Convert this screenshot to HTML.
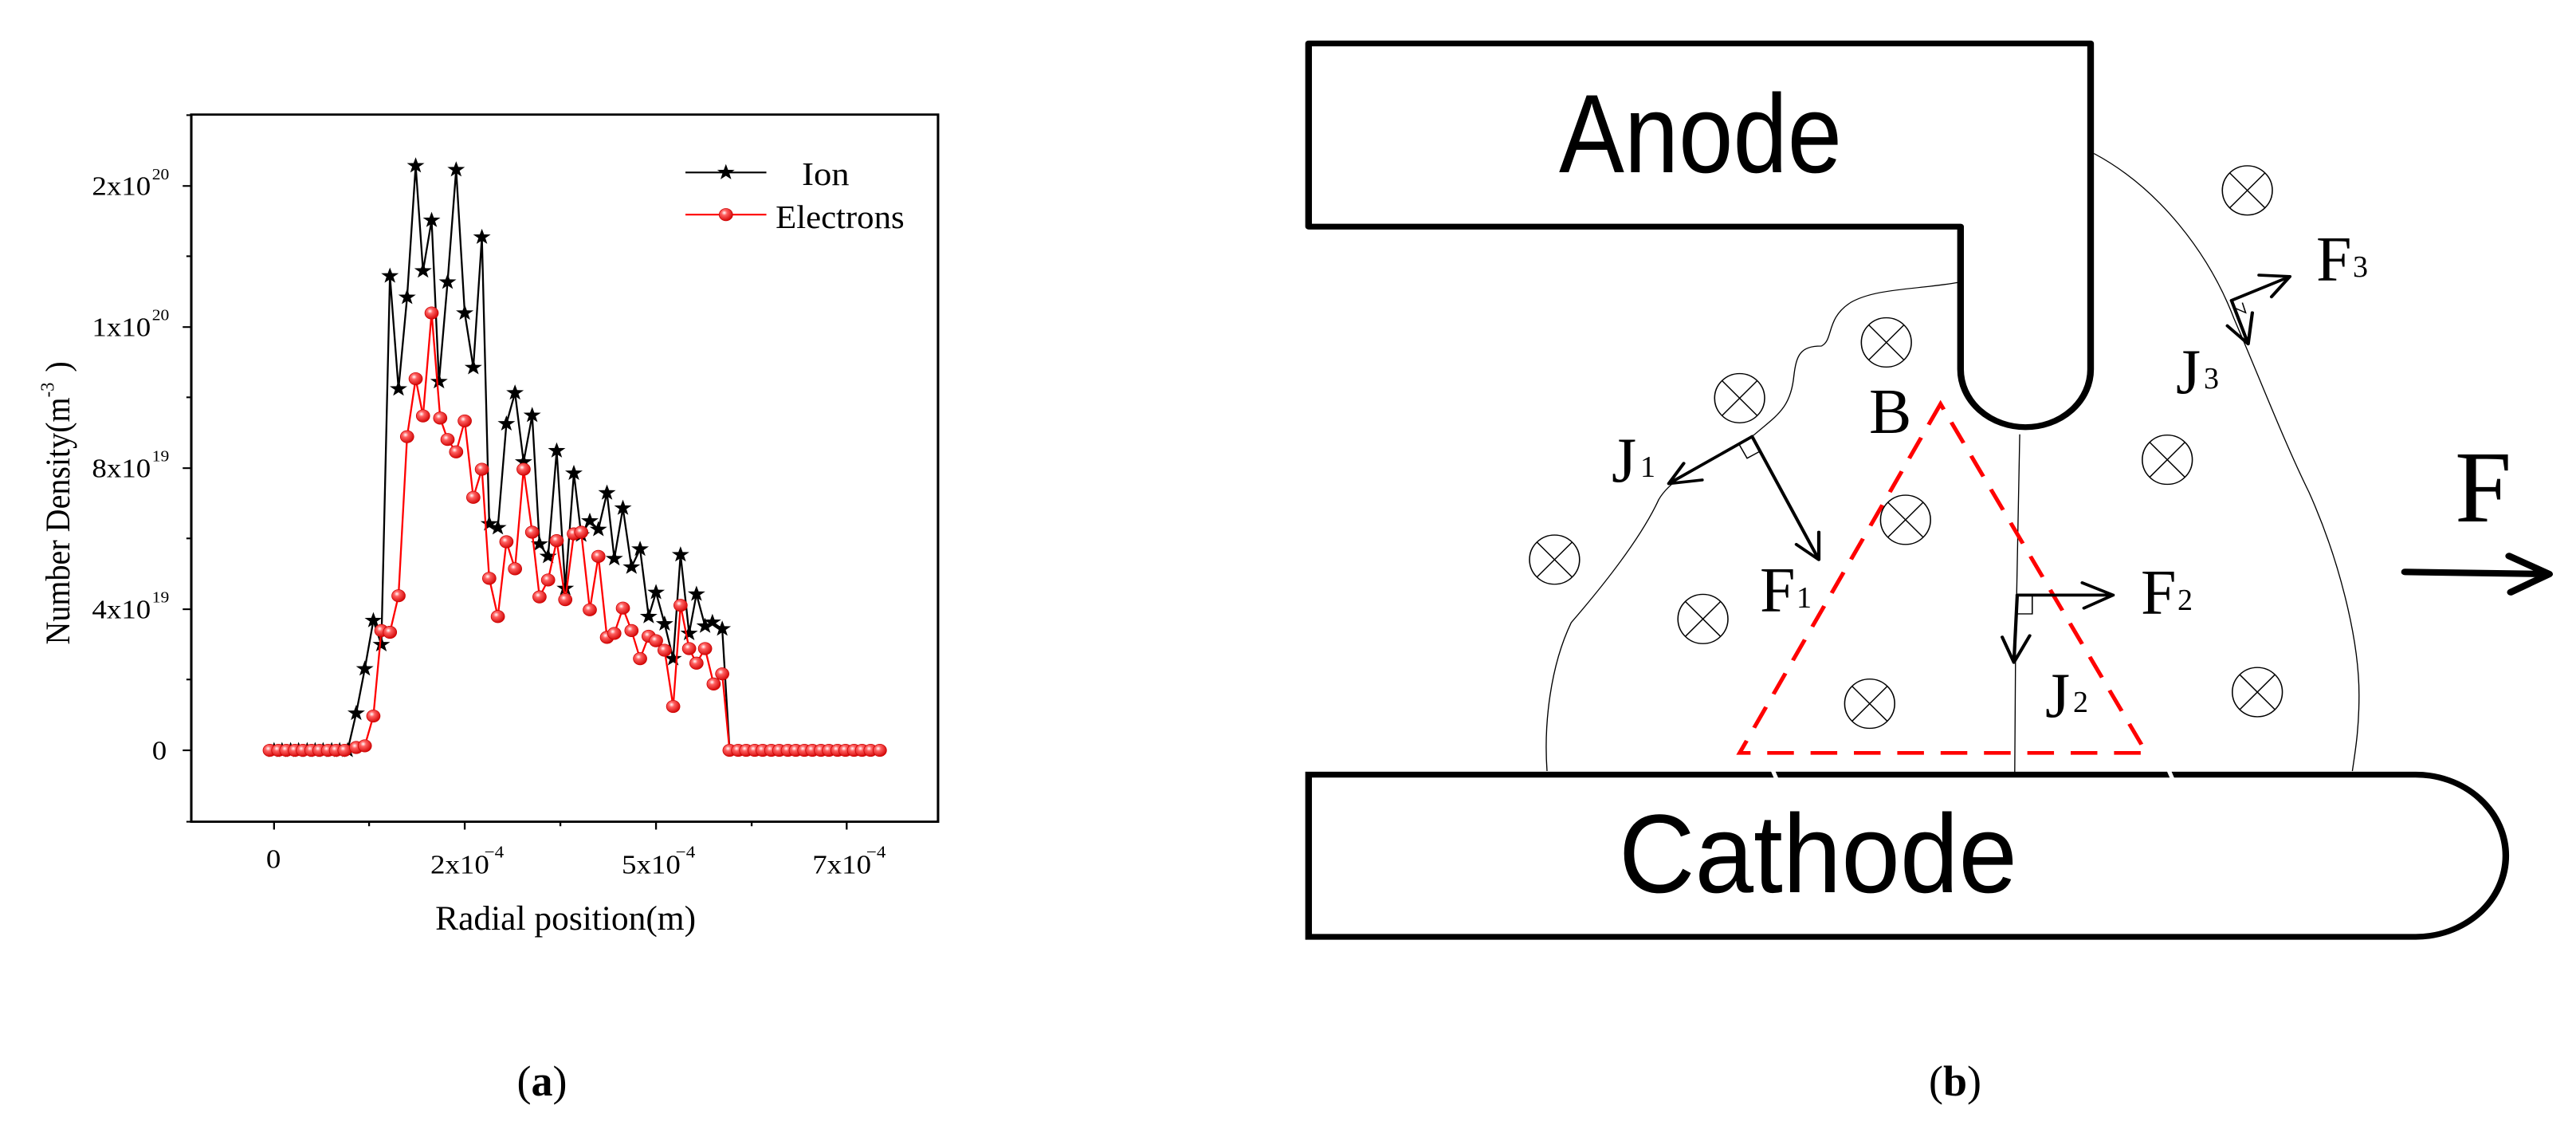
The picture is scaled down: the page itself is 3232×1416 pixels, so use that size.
<!DOCTYPE html>
<html><head><meta charset="utf-8"><style>html,body{margin:0;padding:0;background:#fff}svg{display:block}</style></head>
<body>
<svg width="3232" height="1416" viewBox="0 0 3232 1416" xmlns="http://www.w3.org/2000/svg">
<defs>
<radialGradient id="rg" cx="0.38" cy="0.35" r="0.7">
<stop offset="0" stop-color="#fff"/><stop offset="0.3" stop-color="#ff6060"/><stop offset="1" stop-color="#d00000"/>
</radialGradient>
<path id="st" d="M0,-15 L3.5,-4.8 L14.3,-4.6 L5.7,1.8 L8.8,12.1 L0,6 L-8.8,12.1 L-5.7,1.8 L-14.3,-4.6 L-3.5,-4.8 Z" fill="#000"/>
<circle id="el" r="11" fill="url(#rg)" stroke="#c00" stroke-width="1"/>
</defs>
<rect width="3232" height="1416" fill="#fff"/>

<!-- Panel (a) -->
<g transform="translate(0,100) scale(0.76923,0.705)" font-family="'Liberation Serif',serif">
<rect x="312" y="62" width="1218" height="1258" fill="none" stroke="#000" stroke-width="4"/>
<g stroke="#000" stroke-width="3">
<line x1="298" y1="1193" x2="312" y2="1193"/><line x1="298" y1="942" x2="312" y2="942"/><line x1="298" y1="691" x2="312" y2="691"/><line x1="298" y1="440" x2="312" y2="440"/><line x1="298" y1="189" x2="312" y2="189"/>
<line x1="304" y1="1320" x2="312" y2="1320"/><line x1="304" y1="1067" x2="312" y2="1067"/><line x1="304" y1="816" x2="312" y2="816"/><line x1="304" y1="565" x2="312" y2="565"/><line x1="304" y1="314" x2="312" y2="314"/><line x1="304" y1="63" x2="312" y2="63"/>
<line x1="447" y1="1320" x2="447" y2="1334"/><line x1="758" y1="1320" x2="758" y2="1334"/><line x1="1070" y1="1320" x2="1070" y2="1334"/><line x1="1381" y1="1320" x2="1381" y2="1334"/>
<line x1="602" y1="1320" x2="602" y2="1328"/><line x1="914" y1="1320" x2="914" y2="1328"/><line x1="1226" y1="1320" x2="1226" y2="1328"/>
</g>
<g font-size="48" text-anchor="end">
<text x="272" y="1209">0</text>
<text x="246" y="958">4x10</text><text x="248" y="930" font-size="28" text-anchor="start">19</text>
<text x="246" y="707">8x10</text><text x="248" y="679" font-size="28" text-anchor="start">19</text>
<text x="246" y="456">1x10</text><text x="248" y="428" font-size="28" text-anchor="start">20</text>
<text x="246" y="205">2x10</text><text x="248" y="177" font-size="28" text-anchor="start">20</text>
</g>
<g font-size="48">
<text x="434" y="1402">0</text>
<text x="702" y="1412">2x10</text><text x="790" y="1384" font-size="30">−4</text>
<text x="1014" y="1412">5x10</text><text x="1102" y="1384" font-size="30">−4</text>
<text x="1325" y="1412">7x10</text><text x="1413" y="1384" font-size="30">−4</text>
</g>
<text x="710" y="1512" font-size="62" textLength="425" lengthAdjust="spacingAndGlyphs">Radial position(m)</text>
<text transform="translate(113,1005) rotate(-90)" font-size="57" textLength="440" lengthAdjust="spacingAndGlyphs">Number Density(m</text>
<text transform="translate(88,565) rotate(-90)" font-size="32">-3</text>
<text transform="translate(113,520) rotate(-90)" font-size="57">)</text>

<polyline fill="none" stroke="#000" stroke-width="3" points="447,1193 460,1193 474,1193 487,1193 501,1193 514,1193 527,1193 541,1193 554,1193 567,1193 581,1127 595,1048 609,962 622,1005 636,349 650,550 664,387 678,153 690,340 704,250 716,537 730,360 744,160 758,415 772,512 786,280 798,790 812,797 826,612 840,557 854,680 868,597 880,826 894,848 908,660 922,905 936,700 948,810 962,785 976,800 990,735 1002,852 1016,762 1030,867 1044,835 1058,955 1070,912 1084,968 1098,1030 1110,845 1124,985 1136,915 1150,972 1162,965 1178,977 1190,1193 1204,1193 1218,1193 1231,1193 1244,1193 1258,1193 1271,1193 1285,1193 1298,1193 1312,1193 1325,1193 1339,1193 1352,1193 1366,1193 1379,1193 1393,1193 1406,1193 1420,1193 1435,1193"/>
<g>
<use href="#st" x="447" y="1193"/><use href="#st" x="460" y="1193"/><use href="#st" x="474" y="1193"/><use href="#st" x="487" y="1193"/><use href="#st" x="501" y="1193"/><use href="#st" x="514" y="1193"/><use href="#st" x="527" y="1193"/><use href="#st" x="541" y="1193"/><use href="#st" x="554" y="1193"/><use href="#st" x="567" y="1193"/>
<use href="#st" x="581" y="1127"/><use href="#st" x="595" y="1048"/><use href="#st" x="609" y="962"/><use href="#st" x="622" y="1005"/><use href="#st" x="636" y="349"/><use href="#st" x="650" y="550"/><use href="#st" x="664" y="387"/><use href="#st" x="678" y="153"/><use href="#st" x="690" y="340"/><use href="#st" x="704" y="250"/><use href="#st" x="716" y="537"/><use href="#st" x="730" y="360"/><use href="#st" x="744" y="160"/><use href="#st" x="758" y="415"/><use href="#st" x="772" y="512"/><use href="#st" x="786" y="280"/><use href="#st" x="798" y="790"/><use href="#st" x="812" y="797"/><use href="#st" x="826" y="612"/><use href="#st" x="840" y="557"/><use href="#st" x="854" y="680"/><use href="#st" x="868" y="597"/><use href="#st" x="880" y="826"/><use href="#st" x="894" y="848"/><use href="#st" x="908" y="660"/><use href="#st" x="922" y="905"/><use href="#st" x="936" y="700"/><use href="#st" x="948" y="810"/><use href="#st" x="962" y="785"/><use href="#st" x="976" y="800"/><use href="#st" x="990" y="735"/><use href="#st" x="1002" y="852"/><use href="#st" x="1016" y="762"/><use href="#st" x="1030" y="867"/><use href="#st" x="1044" y="835"/><use href="#st" x="1058" y="955"/><use href="#st" x="1070" y="912"/><use href="#st" x="1084" y="968"/><use href="#st" x="1098" y="1030"/><use href="#st" x="1110" y="845"/><use href="#st" x="1124" y="985"/><use href="#st" x="1136" y="915"/><use href="#st" x="1150" y="972"/><use href="#st" x="1162" y="965"/><use href="#st" x="1178" y="977"/>
</g>
<polyline fill="none" stroke="#f00" stroke-width="3" points="440,1193 454,1193 467,1193 481,1193 494,1193 508,1193 521,1193 535,1193 548,1193 562,1193 581,1188 595,1185 609,1132 622,980 636,983 650,918 664,635 678,532 690,598 704,415 718,602 730,640 744,662 758,607 772,743 786,693 798,887 812,955 826,822 840,870 854,693 868,805 880,920 894,890 908,820 922,925 936,808 948,805 962,943 976,848 990,992 1002,985 1016,940 1030,980 1044,1030 1058,990 1070,998 1084,1015 1098,1115 1110,935 1124,1012 1136,1038 1150,1012 1164,1075 1178,1057 1190,1193 1204,1193 1217,1193 1231,1193 1244,1193 1258,1193 1271,1193 1285,1193 1298,1193 1312,1193 1325,1193 1339,1193 1352,1193 1366,1193 1379,1193 1393,1193 1406,1193 1420,1193 1435,1193"/>
<g>
<use href="#el" x="440" y="1193"/><use href="#el" x="454" y="1193"/><use href="#el" x="467" y="1193"/><use href="#el" x="481" y="1193"/><use href="#el" x="494" y="1193"/><use href="#el" x="508" y="1193"/><use href="#el" x="521" y="1193"/><use href="#el" x="535" y="1193"/><use href="#el" x="548" y="1193"/><use href="#el" x="562" y="1193"/>
<use href="#el" x="581" y="1188"/><use href="#el" x="595" y="1185"/><use href="#el" x="609" y="1132"/><use href="#el" x="622" y="980"/><use href="#el" x="636" y="983"/><use href="#el" x="650" y="918"/><use href="#el" x="664" y="635"/><use href="#el" x="678" y="532"/><use href="#el" x="690" y="598"/><use href="#el" x="704" y="415"/><use href="#el" x="718" y="602"/><use href="#el" x="730" y="640"/><use href="#el" x="744" y="662"/><use href="#el" x="758" y="607"/><use href="#el" x="772" y="743"/><use href="#el" x="786" y="693"/><use href="#el" x="798" y="887"/><use href="#el" x="812" y="955"/><use href="#el" x="826" y="822"/><use href="#el" x="840" y="870"/><use href="#el" x="854" y="693"/><use href="#el" x="868" y="805"/><use href="#el" x="880" y="920"/><use href="#el" x="894" y="890"/><use href="#el" x="908" y="820"/><use href="#el" x="922" y="925"/><use href="#el" x="936" y="808"/><use href="#el" x="948" y="805"/><use href="#el" x="962" y="943"/><use href="#el" x="976" y="848"/><use href="#el" x="990" y="992"/><use href="#el" x="1002" y="985"/><use href="#el" x="1016" y="940"/><use href="#el" x="1030" y="980"/><use href="#el" x="1044" y="1030"/><use href="#el" x="1058" y="990"/><use href="#el" x="1070" y="998"/><use href="#el" x="1084" y="1015"/><use href="#el" x="1098" y="1115"/><use href="#el" x="1110" y="935"/><use href="#el" x="1124" y="1012"/><use href="#el" x="1136" y="1038"/><use href="#el" x="1150" y="1012"/><use href="#el" x="1164" y="1075"/><use href="#el" x="1178" y="1057"/>
<use href="#el" x="1190" y="1193"/><use href="#el" x="1204" y="1193"/><use href="#el" x="1217" y="1193"/><use href="#el" x="1231" y="1193"/><use href="#el" x="1244" y="1193"/><use href="#el" x="1258" y="1193"/><use href="#el" x="1271" y="1193"/><use href="#el" x="1285" y="1193"/><use href="#el" x="1298" y="1193"/><use href="#el" x="1312" y="1193"/><use href="#el" x="1325" y="1193"/><use href="#el" x="1339" y="1193"/><use href="#el" x="1352" y="1193"/><use href="#el" x="1366" y="1193"/><use href="#el" x="1379" y="1193"/><use href="#el" x="1393" y="1193"/><use href="#el" x="1406" y="1193"/><use href="#el" x="1420" y="1193"/><use href="#el" x="1435" y="1193"/>
</g>
<line x1="1118" y1="165" x2="1250" y2="165" stroke="#000" stroke-width="3"/><use href="#st" x="1184" y="165"/>
<text x="1308" y="187" font-size="58">Ion</text>
<line x1="1118" y1="240" x2="1250" y2="240" stroke="#f00" stroke-width="3"/><use href="#el" x="1184" y="240"/>
<text x="1265" y="264" font-size="58" textLength="210" lengthAdjust="spacingAndGlyphs">Electrons</text>
</g>
<text x="680" y="1374" font-family="'Liberation Serif',serif" font-size="54" text-anchor="middle">(<tspan font-weight="bold">a</tspan>)</text>

<!-- Panel (b) -->
<g transform="translate(1600,0) scale(1.046,0.908)" fill="none" stroke="#000">
<path d="M40,60 L978,60 L978,510 A78,80 0 0 1 822,510 L822,313 L40,313 Z" stroke-width="8" stroke-linejoin="round"/>
<path d="M40,1070 L1368,1070 A108,112 0 0 1 1368,1294 L40,1294 Z" stroke-width="8"/>
<line x1="596" y1="1062" x2="602" y2="1078" stroke="#fff" stroke-width="5"/>
<line x1="1071" y1="1062" x2="1077" y2="1078" stroke="#fff" stroke-width="5"/>
<path d="M820,390 C770,400 720,398 690,418 C660,440 670,470 655,478 C630,478 625,490 622,520 C618,565 600,575 575,600 C540,630 480,650 460,690 C440,740 400,800 355,860 C330,920 322,1000 326,1065" stroke-width="1.3"/>
<path d="M893,600 L888,900 L887,1068" stroke-width="1.3"/>
<path d="M982,212 C1060,260 1120,350 1150,440 C1180,520 1210,610 1240,680 C1275,770 1300,880 1300,960 C1300,1010 1295,1040 1292,1065" stroke-width="1.3"/>
<path d="M798,558 L557,1040 L1045,1040 Z" stroke="#f00" stroke-width="5" stroke-dasharray="32,20"/>
<g stroke-width="1.5">
<g transform="translate(733,473)"><ellipse rx="30" ry="34"/><path d="M-21,-24 L21,24 M21,-24 L-21,24"/></g>
<g transform="translate(557,550)"><ellipse rx="30" ry="34"/><path d="M-21,-24 L21,24 M21,-24 L-21,24"/></g>
<g transform="translate(335,773)"><ellipse rx="30" ry="34"/><path d="M-21,-24 L21,24 M21,-24 L-21,24"/></g>
<g transform="translate(513,855)"><ellipse rx="30" ry="34"/><path d="M-21,-24 L21,24 M21,-24 L-21,24"/></g>
<g transform="translate(756,718)"><ellipse rx="30" ry="34"/><path d="M-21,-24 L21,24 M21,-24 L-21,24"/></g>
<g transform="translate(713,972)"><ellipse rx="30" ry="34"/><path d="M-21,-24 L21,24 M21,-24 L-21,24"/></g>
<g transform="translate(1166,263)"><ellipse rx="30" ry="34"/><path d="M-21,-24 L21,24 M21,-24 L-21,24"/></g>
<g transform="translate(1070,635)"><ellipse rx="30" ry="34"/><path d="M-21,-24 L21,24 M21,-24 L-21,24"/></g>
<g transform="translate(1178,956)"><ellipse rx="30" ry="34"/><path d="M-21,-24 L21,24 M21,-24 L-21,24"/></g>
</g>
<g stroke-width="4" stroke-linecap="round" stroke-linejoin="round">
<path d="M572,603 L472,668 M490,640 L472,668 L512,663"/>
<path d="M572,603 L652,773 M625,752 L652,773 L652,735"/>
<path d="M890,822 L1005,822 M968,805 L1005,822 L970,840"/>
<path d="M890,822 L886,915 M872,880 L886,915 L905,878"/>
<path d="M1147,415 L1217,382 M1180,380 L1217,382 L1195,410"/>
<path d="M1147,415 L1167,475 M1142,450 L1167,475 L1172,432"/>
</g>
<g stroke-width="1.5">
<path d="M556,613 L566,633 L582,623"/>
<path d="M890,848 L908,848 L908,822"/>
<path d="M1150,425 L1164,432 L1160,418"/>
</g>
<path d="M1355,790 L1528,793 M1480,768 L1528,793 L1482,818" stroke-width="9" stroke-linecap="round" stroke-linejoin="round"/>
</g>
<g font-family="'WenQuanYi Zen Hei','Liberation Sans',sans-serif" fill="#000">
<text x="1956" y="216" font-size="140" textLength="355" lengthAdjust="spacingAndGlyphs">Anode</text>
<text x="2031" y="1119" font-size="140" textLength="500" lengthAdjust="spacingAndGlyphs">Cathode</text>
</g>
<g font-family="'Liberation Serif',serif" fill="#000">
<text x="2345" y="543" font-size="80">B</text>
<text x="2022" y="604" font-size="80">J</text><text x="2058" y="598" font-size="38">1</text>
<text x="2208" y="767" font-size="80">F</text><text x="2254" y="762" font-size="38">1</text>
<text x="2686" y="770" font-size="80">F</text><text x="2732" y="765" font-size="38">2</text>
<text x="2566" y="899" font-size="80">J</text><text x="2601" y="893" font-size="38">2</text>
<text x="2730" y="493" font-size="80">J</text><text x="2765" y="487" font-size="38">3</text>
<text x="2906" y="352" font-size="80">F</text><text x="2952" y="347" font-size="38">3</text>
<text x="3080" y="654" font-size="128">F</text>
<text x="2453" y="1374" font-size="54" text-anchor="middle">(<tspan font-weight="bold">b</tspan>)</text>
</g>
</svg>
</body></html>
